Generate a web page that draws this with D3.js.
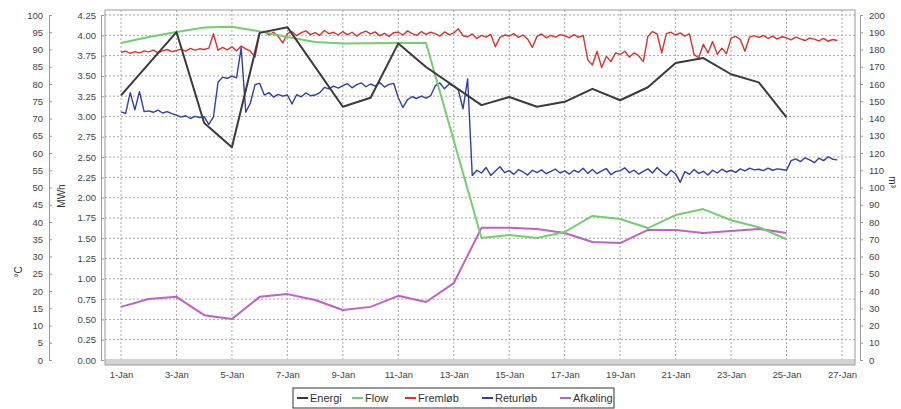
<!DOCTYPE html>
<html><head><meta charset="utf-8">
<script src="https://cdn.jsdelivr.net/npm/d3@7"></script>
<style>body{margin:0;background:#fff}svg{font-family:"Liberation Sans",Arial,sans-serif}</style>
</head><body><svg id="c" width="901" height="409"></svg>
<script>
// ---- data ----
const xTickLabels = ["1-Jan","3-Jan","5-Jan","7-Jan","9-Jan","11-Jan","13-Jan","15-Jan","17-Jan","19-Jan","21-Jan","23-Jan","25-Jan","27-Jan"];
const seriesNames = ["Energi","Flow","Fremløb","Returløb","Afkøling"];
// Energi (MWh), daily points [day, value]
const energiDays = [0,2,3,4,5,6,8,9,10,11,13,14,15,16,17,18,19,20,21,22,23,24];
const energiVals = [3.26,4.04,2.92,2.62,4.03,4.10,3.12,3.23,3.90,3.61,3.14,3.24,3.12,3.18,3.34,3.20,3.36,3.66,3.72,3.52,3.42,2.99];
// Flow (m³)
const flowDays = [0,1,2,3,4,5,6,7,8,9,10,11,13,14,15,16,17,18,19,20,21,22,23,24];
const flowVals = [183.8,187.2,190.1,192.8,193.2,190.5,187.2,184.3,183.5,183.6,183.8,183.8,70.7,72.5,70.7,74.2,83.5,81.7,76.5,84,87.5,81,77,70];
// Afkøling (°C)
const afkDays = [0,1,2,3,4,5,6,7,8,9,10,11,12,13,14,15,16,17,18,19,20,21,22,23,24];
const afkVals = [15.4,17.7,18.3,13.0,11.9,18.3,19.1,17.4,14.5,15.4,18.6,16.8,22.3,38.3,38.3,38.0,36.8,34.2,33.9,37.7,37.7,36.8,37.4,38.0,36.8];
// Fremløb (°C), readings every 4 hours from 1-Jan 00:00
const samplesPerDay = 6;
const fremVals = [
89.2,89.5,88.9,89.4,89.0,89.6, 89.3,89.8,89.1,89.6,90.0,89.4, 89.7,90.1,89.5,90.3,89.8,90.2,
90.0,90.4,94.5,89.8,90.6,89.9, 90.8,89.6,91.0,90.2,89.5,87.8, 94.8,95.3,94.2,95.0,93.8,91.9,
94.6,95.2,94.0,94.9,95.4,94.3, 94.9,94.1,95.5,94.6,95.0,94.2, 95.2,94.3,95.0,93.9,94.8,95.3,
94.5,95.1,94.0,94.7,93.8,94.9, 95.0,94.2,95.4,94.6,94.1,95.2, 94.4,95.0,94.6,93.9,95.1,94.3,
94.8,96.0,94.0,93.7,94.5,93.2, 94.1,93.6,94.4,90.8,93.5,94.2, 93.9,94.6,93.5,94.2,93.0,90.6,
93.8,94.5,93.4,94.1,93.6,94.3, 94.0,93.4,94.3,93.5,94.1,87.0, 85.5,89.5,84.8,88.0,86.5,89.0,
88.6,89.5,87.8,89.0,88.2,86.5, 93.8,95.2,94.5,89.0,94.6,95.0, 94.2,94.8,93.9,94.5,88.5,87.6,
91.5,89.0,92.3,88.6,90.4,88.8, 93.3,93.8,92.9,89.5,93.6,94.0, 93.5,94.1,93.2,93.9,93.0,93.7,
93.4,92.8,93.6,93.1,92.6,93.3, 93.0,92.5,93.2,92.4,92.9,92.6];
// Returløb (°C), readings every 4 hours from 1-Jan 00:00
const retVals = [
71.9,71.5,77.5,72.5,77.8,72.0, 72.2,71.8,72.4,71.6,72.0,71.4, 71.0,70.4,70.8,70.0,70.6,70.3,
70.5,68.3,70.5,80.5,82.0,81.6, 82.3,81.8,90.5,71.8,74.5,79.8, 80.2,76.8,77.5,76.2,77.0,76.5,
76.8,74.2,76.9,76.3,77.4,76.6, 76.8,77.5,79.0,78.6,79.4,78.8, 79.5,80.1,78.9,79.8,80.3,79.2,
80.0,79.4,80.4,79.1,79.9,80.2, 76.0,73.2,75.5,76.3,75.8,76.5, 75.9,76.6,79.5,80.3,78.6,80.0,
79.4,78.2,72.8,81.5,53.5,55.0, 54.2,55.8,53.5,54.8,56.0,54.3, 54.9,53.8,55.2,54.5,53.6,55.0,
54.3,55.1,54.0,54.7,55.3,54.2, 54.8,53.9,55.0,54.4,55.6,54.1, 55.2,54.0,54.8,55.5,53.7,54.6,
54.9,55.7,54.3,55.0,53.9,54.7, 55.4,54.2,55.8,54.5,53.5,55.0, 54.0,51.5,54.6,53.8,55.2,54.1,
54.7,53.6,55.0,54.2,55.3,54.5, 55.0,54.4,55.4,54.8,55.6,55.1, 55.3,54.9,55.6,55.0,55.4,55.2,
55.0,57.8,58.3,57.5,58.6,58.0, 57.2,58.5,57.8,58.9,58.2,58.0];
const cTicks = d3.range(0, 101, 5);
const mwhTicks = d3.range(0, 4.26, 0.25);
const m3Ticks = d3.range(0, 201, 10);

// ---- layout ----
const svg = d3.select("#c");
const L = 105, R = 855, T = 10, B = 365;
const x = d3.scaleLinear().domain([0, 26]).range([121, 842]);
const yC = d3.scaleLinear().domain([0, 100]).range([360, 15]);
const yE = d3.scaleLinear().domain([0, 4.25]).range([360, 15]);
const yM = d3.scaleLinear().domain([0, 200]).range([360, 15]);
const colors = {Energi:"#3a3a3a", Flow:"#72cf6e", "Fremløb":"#e0302c", "Returløb":"#2f3ea8", "Afkøling":"#c35fc6"};

svg.append("rect").attr("x",L).attr("y",T).attr("width",R-L).attr("height",B-T).attr("fill","#fff");
// grid
svg.append("g").selectAll("line").data(mwhTicks.slice(1)).join("line")
  .attr("x1",L).attr("x2",R).attr("y1",d=>yE(d)).attr("y2",d=>yE(d))
  .attr("stroke","#a8a8a8").attr("stroke-dasharray","2,2");
svg.append("g").selectAll("line").data(xTickLabels.map((d,i)=>i*2)).join("line")
  .attr("x1",d=>x(d)).attr("x2",d=>x(d)).attr("y1",T).attr("y2",360)
  .attr("stroke","#a8a8a8").attr("stroke-dasharray","2,2");
svg.append("rect").attr("x",L).attr("y",359).attr("width",R-L).attr("height",6).attr("fill","#d4d4d4");
svg.append("rect").attr("x",L).attr("y",T).attr("width",R-L).attr("height",B-T)
  .attr("fill","none").attr("stroke","#9a9a9a");

// axes
function styleAxis(g){
  g.selectAll("path").attr("stroke","#999");
  g.selectAll("line").attr("stroke","#999");
  g.selectAll("text").attr("fill","#444").attr("font-size","9.5px");
}
svg.append("g").attr("transform","translate(49,0)")
  .call(d3.axisLeft(yC).tickValues(cTicks).tickSize(-3).tickSizeOuter(0).tickPadding(6).tickFormat(d3.format("d")))
  .call(styleAxis);
svg.append("g").attr("transform","translate(101,0)")
  .call(d3.axisLeft(yE).tickValues(mwhTicks).tickSize(-3).tickSizeOuter(0).tickPadding(5).tickFormat(d3.format(".2f")))
  .call(styleAxis);
svg.append("g").attr("transform","translate(860,0)")
  .call(d3.axisRight(yM).tickValues(m3Ticks).tickSize(3).tickSizeOuter(0).tickPadding(6).tickFormat(d3.format("d")))
  .call(styleAxis);
const xa = svg.append("g").attr("transform","translate(0,365)")
  .call(d3.axisBottom(x).tickValues(xTickLabels.map((d,i)=>i*2)).tickSize(0).tickPadding(6).tickFormat((d,i)=>xTickLabels[i]))
  .call(styleAxis);
xa.select("path").remove();

svg.append("text").attr("transform","translate(22,272) rotate(-90)").attr("text-anchor","middle")
  .attr("font-size","10px").attr("fill","#333").text("°C");
svg.append("text").attr("transform","translate(65,196) rotate(-90)").attr("text-anchor","middle")
  .attr("font-size","10px").attr("fill","#333").text("MWh");
svg.append("text").attr("transform","translate(889,182) rotate(90)").attr("text-anchor","middle")
  .attr("font-size","10px").attr("fill","#333").text("m³");

// lines
const plot = svg.append("g");
function drawLine(xs, vs, scale, color, w){
  plot.append("path").datum(vs.map((v,i)=>[xs[i],v]))
    .attr("fill","none").attr("stroke",color).attr("stroke-width",w).attr("stroke-linejoin","round")
    .attr("d", d3.line().x(d=>x(d[0])).y(d=>scale(d[1])));
}
const tIdx = v => v.map((_,i)=>i/samplesPerDay);
drawLine(tIdx(retVals), retVals, yC, colors["Returløb"], 1.4);
drawLine(tIdx(fremVals), fremVals, yC, colors["Fremløb"], 1.4);
drawLine(afkDays, afkVals, yC, colors["Afkøling"], 2);
drawLine(flowDays, flowVals, yM, colors.Flow, 2);
drawLine(energiDays, energiVals, yE, colors.Energi, 2);

// legend
const lg = svg.append("g");
lg.append("rect").attr("x",293).attr("y",388).attr("width",321).attr("height",20)
  .attr("fill","#fff").attr("stroke","#555").attr("stroke-width",1.2);
const legX = [297, 352, 405, 482, 560];
seriesNames.forEach((n,i)=>{
  lg.append("line").attr("x1",legX[i]).attr("x2",legX[i]+11).attr("y1",398).attr("y2",398)
    .attr("stroke",colors[n]).attr("stroke-width",2);
  lg.append("text").attr("x",legX[i]+13).attr("y",402).attr("font-size","11px").attr("fill","#333").text(n);
});
</script></body></html>
